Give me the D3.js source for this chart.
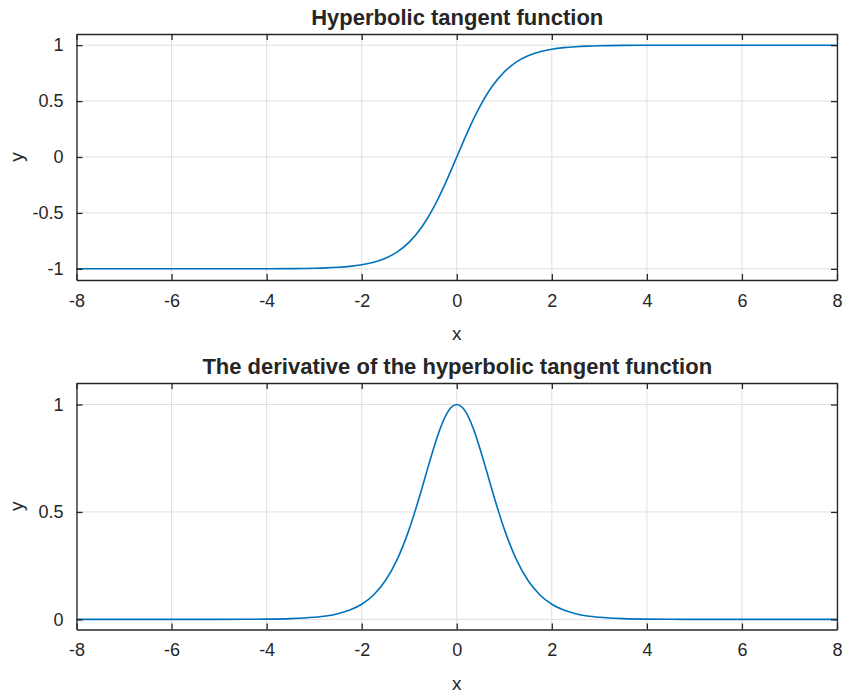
<!DOCTYPE html>
<html>
<head>
<meta charset="utf-8">
<script src="https://cdn.jsdelivr.net/npm/d3@7"></script>
<style>
  html, body { margin: 0; padding: 0; background: #fff; }
  svg { display: block; }
  text { font-family: "Liberation Sans", Arial, Helvetica, sans-serif; fill: #262626; }
</style>
</head>
<body>
<svg id="chart" width="845" height="692"></svg>
<script>
// ---- Data ----
const xValues = [-8,-7,-6,-5,-4.5,-4,-3.5,-3,-2.75,-2.5,-2.25,-2,-1.75,-1.5,-1.25,-1,-0.75,-0.625,-0.5,-0.375,-0.25,-0.125,0,
                 0.125,0.25,0.375,0.5,0.625,0.75,1,1.25,1.5,1.75,2,2.25,2.5,2.75,3,3.5,4,4.5,5,6,7,8];
const tanhValues = [-1,-1,-1,-0.9999,-0.9998,-0.9993,-0.9982,-0.9951,-0.9919,-0.9866,-0.9780,-0.9640,-0.9414,-0.9051,-0.8483,-0.7616,-0.6351,-0.5546,-0.4621,-0.3584,-0.2449,-0.1244,0,
                    0.1244,0.2449,0.3584,0.4621,0.5546,0.6351,0.7616,0.8483,0.9051,0.9414,0.9640,0.9780,0.9866,0.9919,0.9951,0.9982,0.9993,0.9998,0.9999,1,1,1];
const derivValues = [0,0,0,0.0002,0.0005,0.0013,0.0036,0.0099,0.0161,0.0266,0.0435,0.0707,0.1138,0.1807,0.2804,0.4200,0.5966,0.6924,0.7864,0.8715,0.9400,0.9845,1,
                     0.9845,0.9400,0.8715,0.7864,0.6924,0.5966,0.4200,0.2804,0.1807,0.1138,0.0707,0.0435,0.0266,0.0161,0.0099,0.0036,0.0013,0.0005,0.0002,0,0,0];
const xTicks = [-8,-6,-4,-2,0,2,4,6,8];
const topYTicks = [-1,-0.5,0,0.5,1];
const botYTicks = [0,0.5,1];
const titles = ["Hyperbolic tangent function", "The derivative of the hyperbolic tangent function"];

const svg = d3.select("#chart");
const lineColor = "#0072BD";
const axisColor = "#262626";
const gridColor = "#dfdfdf";

function panel(opts) {
  const {top, bottom, left, right, yDomain, yTicks, values, title} = opts;
  const x = d3.scaleLinear().domain([-8, 8]).range([left, right]);
  const y = d3.scaleLinear().domain(yDomain).range([bottom, top]);
  const g = svg.append("g");

  // grid
  g.selectAll(".gx").data(xTicks).join("line")
    .attr("x1", d => x(d)).attr("x2", d => x(d))
    .attr("y1", top).attr("y2", bottom)
    .attr("stroke", gridColor).attr("stroke-width", 1);
  g.selectAll(".gy").data(yTicks).join("line")
    .attr("x1", left).attr("x2", right)
    .attr("y1", d => y(d)).attr("y2", d => y(d))
    .attr("stroke", gridColor).attr("stroke-width", 1);

  // curve
  const pts = xValues.map((v, i) => [v, values[i]]);
  g.append("path").datum(pts)
    .attr("fill", "none").attr("stroke", lineColor).attr("stroke-width", 1.6)
    .attr("d", d3.line().x(d => x(d[0])).y(d => y(d[1])).curve(d3.curveMonotoneX));

  // axes (bottom, left) with inward ticks; top and right mirrored
  const fs = "18px";
  const axB = g.append("g").attr("transform", `translate(0,${bottom})`)
    .call(d3.axisBottom(x).tickValues(xTicks).tickSizeInner(-6).tickSizeOuter(0).tickPadding(14).tickFormat(d3.format("")));
  const axT = g.append("g").attr("transform", `translate(0,${top})`)
    .call(d3.axisTop(x).tickValues(xTicks).tickSizeInner(-6).tickSizeOuter(0).tickFormat(""));
  const axL = g.append("g").attr("transform", `translate(${left},0)`)
    .call(d3.axisLeft(y).tickValues(yTicks).tickSizeInner(-6).tickSizeOuter(0).tickPadding(13).tickFormat(d3.format("")));
  const axR = g.append("g").attr("transform", `translate(${right},0)`)
    .call(d3.axisRight(y).tickValues(yTicks).tickSizeInner(-6).tickSizeOuter(0).tickFormat(""));
  [axB, axT, axL, axR].forEach(a => {
    a.select(".domain").attr("stroke", axisColor).attr("stroke-width", 1.3);
    a.selectAll(".tick line").attr("stroke", axisColor).attr("stroke-width", 1.3);
    a.selectAll("text").attr("font-size", fs).attr("fill", axisColor)
      .style("font-family", '"Liberation Sans", Arial, Helvetica, sans-serif');
  });
  // plain hyphen minus as in reference
  axB.selectAll("text").text(d => String(d));
  axL.selectAll("text").text(d => String(d));

  // title
  g.append("text").attr("x", (left + right) / 2 + 0.5).attr("y", top - 9)
    .attr("text-anchor", "middle").attr("font-weight", "bold").attr("font-size", "22px")
    .text(title);
  // x label
  g.append("text").attr("x", (left + right) / 2).attr("y", bottom + 60)
    .attr("text-anchor", "middle").attr("font-size", "19px").text("x");
  // y label
  g.append("text").attr("transform", `translate(${left - 54},${(top + bottom) / 2}) rotate(-90)`)
    .attr("text-anchor", "middle").attr("font-size", "19px").text("y");
}

panel({top: 34, bottom: 280, left: 76.5, right: 837, yDomain: [-1.1, 1.1], yTicks: topYTicks, values: tanhValues, title: titles[0]});
panel({top: 383, bottom: 629.5, left: 76.5, right: 837, yDomain: [-0.047, 1.1], yTicks: botYTicks, values: derivValues, title: titles[1]});
</script>
</body>
</html>
